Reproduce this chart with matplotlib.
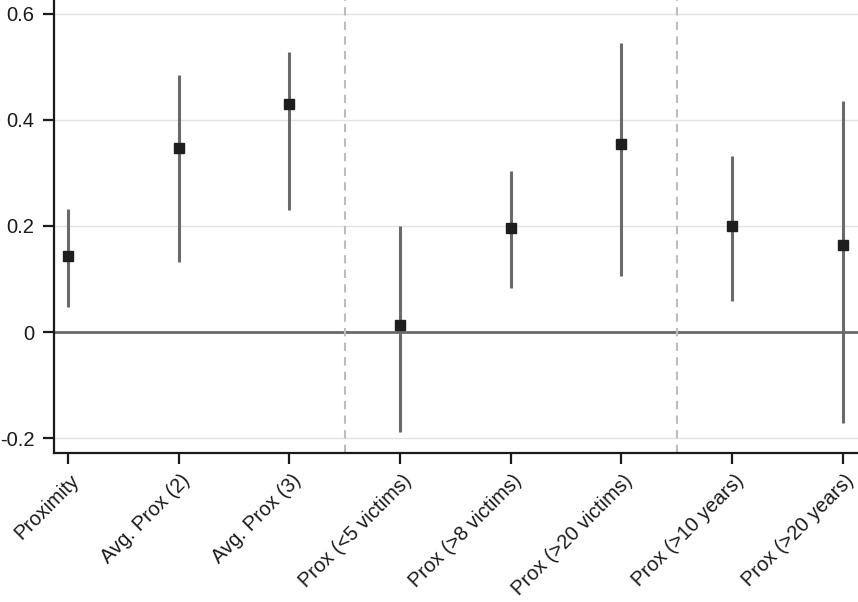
import matplotlib
matplotlib.use("Agg")
import matplotlib.pyplot as plt
import matplotlib.transforms as mtransforms

plt.rcParams['font.family'] = ['Liberation Sans', 'DejaVu Sans']

# estimates
labels = ['Proximity', 'Avg. Prox (2)', 'Avg. Prox (3)', 'Prox (<5 victims)',
          'Prox (>8 victims)', 'Prox (>20 victims)', 'Prox (>10 years)',
          'Prox (>20 years)']
coef = [0.143, 0.347, 0.430, 0.013, 0.197, 0.355, 0.200, 0.165]
ci_low = [0.047, 0.132, 0.230, -0.188, 0.084, 0.106, 0.058, -0.172]
ci_high = [0.232, 0.485, 0.528, 0.200, 0.304, 0.545, 0.332, 0.435]
yticks = [-0.2, 0, 0.2, 0.4, 0.6]
ytick_labels = ['-0.2', '0', '0.2', '0.4', '0.6']
group_breaks = [2.5, 5.5]

fig = plt.figure(figsize=(8.58, 6.02), dpi=100)
ax = fig.add_axes([0.063, 0.2475, 0.937, 0.7525])

x = list(range(len(labels)))

# gridlines and reference lines
for t in yticks:
    ax.axhline(t, color='#e3e3e3', lw=1.0, zorder=0)
ax.axhline(0, color='#6a6a6a', lw=2.0, zorder=1)
for b in group_breaks:
    ax.axvline(b, color='#bdbdbd', lw=1.5, ls=(0, (4, 3)), zorder=1)

# confidence intervals and point estimates
ax.vlines(x, ci_low, ci_high, color='#6a6a6a', lw=2.2, zorder=2)
ax.plot(x, coef, ls='none', marker='s', ms=7.5, color='#1e1e1e', zorder=3)

ax.set_xlim(-0.126, 7.14)
ax.set_ylim(-0.228, 0.626)
ax.set_yticks(yticks)
ax.set_yticklabels(ytick_labels)
ax.set_xticks(x)
ax.set_xticklabels(labels, rotation=45, ha='right', rotation_mode='anchor')

ax.spines['top'].set_visible(False)
ax.spines['right'].set_visible(False)
for s in ['left', 'bottom']:
    ax.spines[s].set_linewidth(1.6)
    ax.spines[s].set_color('#1a1a1a')
ax.tick_params(axis='both', length=8, width=1.6, color='#1a1a1a',
               labelsize=14.5, labelcolor='#1a1a1a')
ax.tick_params(axis='x', pad=5)
ax.tick_params(axis='y', pad=6)
# nudge the rotated labels a little right, as in the original
shift = mtransforms.ScaledTranslation(0.02, 0, fig.dpi_scale_trans)
for lab in ax.get_xticklabels():
    lab.set_transform(lab.get_transform() + shift)

fig.savefig('out.png', dpi=100)
